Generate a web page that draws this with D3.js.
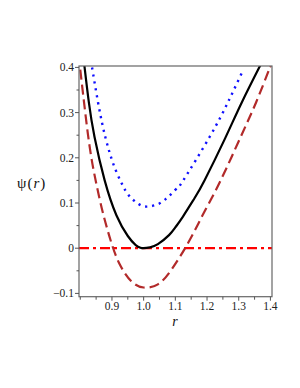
<!DOCTYPE html>
<html>
<head>
<meta charset="utf-8">
<script src="https://cdn.jsdelivr.net/npm/d3@7"></script>
<style>
  body { margin: 0; background: #fff; }
  svg { display: block; }
  .tick-label { font-family: "Liberation Serif", "DejaVu Serif", serif; font-size: 11.5px; fill: #222; }
  .axis-title { font-family: "Liberation Serif", "DejaVu Serif", serif; font-size: 15px; fill: #111; }
</style>
</head>
<body>
<svg id="canvas"></svg>
<script>
// values
let rBlack   = [0.812, 0.827, 0.845, 0.877, 0.914, 0.950, 0.975, 0.990, 1.000, 1.020, 1.045, 1.080, 1.100, 1.124, 1.160, 1.192, 1.257, 1.310, 1.367, 1.372]
let psiBlack = [0.410, 0.323, 0.246, 0.150, 0.073, 0.027, 0.007, 0.001, 0.000, 0.002, 0.009, 0.029, 0.046, 0.070, 0.110, 0.150, 0.243, 0.323, 0.403, 0.410]

let rBlue   = [0.835, 0.837, 0.856, 0.879, 0.905, 0.927, 0.943, 0.958, 0.972, 0.991, 1.012, 1.035, 1.055, 1.073, 1.089, 1.106, 1.124, 1.208, 1.266, 1.314]
let psiBlue = [0.410, 0.401, 0.323, 0.246, 0.185, 0.149, 0.127, 0.113, 0.104, 0.095, 0.092, 0.095, 0.101, 0.111, 0.121, 0.133, 0.149, 0.246, 0.323, 0.394]

let rRed   = [0.800, 0.812, 0.824, 0.836, 0.850, 0.868, 0.885, 0.900, 0.924, 0.961, 1.000, 1.045, 1.082, 1.108, 1.130, 1.162, 1.195, 1.243, 1.306, 1.355, 1.393, 1.400]
let psiRed = [0.395, 0.322, 0.253, 0.196, 0.145, 0.088, 0.043, 0.008, -0.035, -0.073, -0.087, -0.080, -0.053, -0.026, -0.001, 0.040, 0.085, 0.150, 0.246, 0.323, 0.390, 0.402]

let rZero   = [0.796, 1.405]
let psiZero = [0, 0]

let xTicks = [0.9, 1.0, 1.1, 1.2, 1.3, 1.4]
let xTickLabels = ["0.9", "1.0", "1.1", "1.2", "1.3", "1.4"]
let xMinorTicks = [0.8, 0.85, 0.95, 1.05, 1.15, 1.25, 1.35]
let yTicks = [-0.1, 0, 0.1, 0.2, 0.3, 0.4]
let yTickLabels = ["\u22120.1", "0", "0.1", "0.2", "0.3", "0.4"]
let yMinorTicks = [-0.05, 0.05, 0.15, 0.25, 0.35]

let width = 300
let height = 388

let canvas = d3.select("#canvas")
canvas.attr("width", width)
      .attr("height", height)

let plotLeft = 79, plotRight = 272, plotTop = 66, plotBottom = 296.7

let xScale = d3.scaleLinear().domain([0.796, 1.405]).range([plotLeft, plotRight])
let yScale = d3.scaleLinear().domain([-0.1073, 0.4031]).range([plotBottom, plotTop])

canvas.append("clipPath")
      .attr("id", "plot-clip")
      .append("rect")
      .attr("x", plotLeft)
      .attr("y", plotTop)
      .attr("width", plotRight - plotLeft)
      .attr("height", plotBottom - plotTop)

// natural cubic spline keeps the curves smooth through the read points
let line = d3.line()
             .x(d => xScale(d[0]))
             .y(d => yScale(d[1]))
             .curve(d3.curveNatural)

let series = [
  { r: rZero,  psi: psiZero,  color: "#ff0000", width: 2.2, dash: "10,4,3,4" },
  { r: rRed,   psi: psiRed,   color: "#b22a2a", width: 2.2, dash: "10,5" },
  { r: rBlue,  psi: psiBlue,  color: "#1010ff", width: 2.4, dash: "2.2,4.8" },
  { r: rBlack, psi: psiBlack, color: "#000000", width: 2.2, dash: null }
]

let plot = canvas.append("g").attr("clip-path", "url(#plot-clip)")
plot.selectAll("path")
    .data(series)
    .enter().append("path")
    .attr("d", s => line(s.r.map((r, i) => [r, s.psi[i]])))
    .attr("fill", "none")
    .attr("stroke", s => s.color)
    .attr("stroke-width", s => s.width)
    .attr("stroke-dasharray", s => s.dash)

// frame
canvas.append("rect")
      .attr("x", plotLeft)
      .attr("y", plotTop)
      .attr("width", plotRight - plotLeft)
      .attr("height", plotBottom - plotTop)
      .attr("fill", "none")
      .attr("stroke", "#666")
      .attr("stroke-width", 1.2)

// x ticks
canvas.selectAll(".xmajor")
      .data(xTicks)
      .enter().append("line")
      .attr("x1", d => xScale(d)).attr("x2", d => xScale(d))
      .attr("y1", plotBottom).attr("y2", plotBottom + 4)
      .attr("stroke", "#555")
canvas.selectAll(".xminor")
      .data(xMinorTicks)
      .enter().append("line")
      .attr("x1", d => xScale(d)).attr("x2", d => xScale(d))
      .attr("y1", plotBottom).attr("y2", plotBottom + 3)
      .attr("stroke", "#555")
canvas.selectAll(".xlabel")
      .data(xTicks)
      .enter().append("text")
      .attr("class", "tick-label")
      .attr("x", d => xScale(d))
      .attr("y", plotBottom + 13)
      .attr("text-anchor", "middle")
      .text((d, i) => xTickLabels[i])

// y ticks
canvas.selectAll(".ymajor")
      .data(yTicks)
      .enter().append("line")
      .attr("x1", plotLeft - 4).attr("x2", plotLeft)
      .attr("y1", d => yScale(d)).attr("y2", d => yScale(d))
      .attr("stroke", "#555")
canvas.selectAll(".yminor")
      .data(yMinorTicks)
      .enter().append("line")
      .attr("x1", plotLeft - 2.5).attr("x2", plotLeft)
      .attr("y1", d => yScale(d)).attr("y2", d => yScale(d))
      .attr("stroke", "#555")
canvas.selectAll(".ylabel")
      .data(yTicks)
      .enter().append("text")
      .attr("class", "tick-label")
      .attr("x", plotLeft - 5)
      .attr("y", d => yScale(d) + 4)
      .attr("text-anchor", "end")
      .text((d, i) => yTickLabels[i])

// axis titles
let yTitle = canvas.append("text")
                   .attr("class", "axis-title")
                   .attr("x", 17)
                   .attr("y", 188)
yTitle.append("tspan").text("\u03c8")
yTitle.append("tspan").attr("dx", 1).text("(")
yTitle.append("tspan").attr("dx", 1).style("font-style", "italic").text("r")
yTitle.append("tspan").attr("dx", 1).text(")")

canvas.append("text")
      .attr("class", "axis-title")
      .attr("x", 175)
      .attr("y", 326)
      .attr("text-anchor", "middle")
      .style("font-style", "italic")
      .style("font-size", "14px")
      .text("r")
</script>
</body>
</html>
